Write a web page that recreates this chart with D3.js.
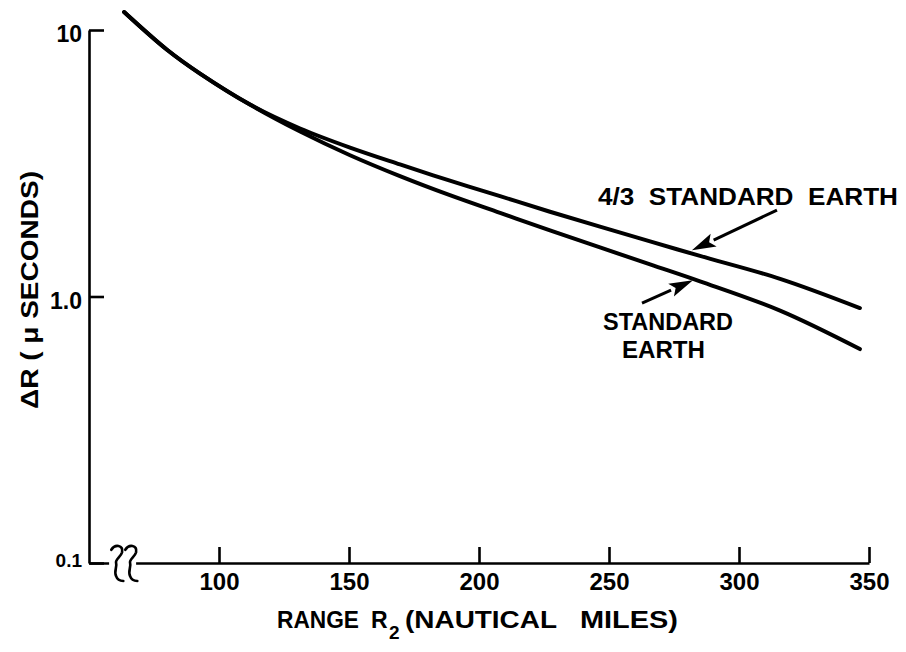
<!DOCTYPE html>
<html>
<head>
<meta charset="utf-8">
<script src="https://cdn.jsdelivr.net/npm/d3@7"></script>
<style>
  body { margin: 0; background: #fff; }
  text { font-family: "Liberation Sans", Arial, sans-serif; font-weight: bold; fill: #000; }
</style>
</head>
<body>
<div id="chart"></div>
<script>
/***********************************************************************/
//chart data (range in nautical miles, delta R in microseconds)
const rangeNm = [63.5, 80, 92.7, 111.9, 131.2, 150.4, 169.6, 188.8, 208.1, 227.3, 265.8, 285, 315.8, 346.5];
const standardEarth = [11.68, 8.43, 6.86, 5.25, 4.16, 3.39, 2.83, 2.40, 2.06, 1.77, 1.32, 1.14, 0.885, 0.635];
const fourThirdsEarth = [11.68, 8.43, 6.86, 5.25, 4.27, 3.62, 3.13, 2.72, 2.38, 2.08, 1.61, 1.42, 1.165, 0.905];

const xTicks = [100, 150, 200, 250, 300, 350];
const yTicks = [0.1, 1, 10];
const yTickLabels = ['0.1', '1.0', '10'];

//annotation arrows, in data units: [tailX, tailY, tipX, tipY]
const arrowFourThirds = [314.6, 2.11, 281.9, 1.49];
const arrowStandard = [262.7, 0.945, 282.3, 1.15];

//set static svg/chart variables
var svgWidth = 906;
var svgHeight = 652;

var svg = d3.select('#chart')
  .append('svg')
  .attr('width', svgWidth)
  .attr('height', svgHeight);

/***********************************************************************/
//scales
var xScale = d3.scaleLinear().domain([50, 350]).range([89, 869]);
var yScale = d3.scaleLog().domain([0.1, 10]).range([563, 30]);

//x axis, ticks pointing up into the plot
var xAxis = d3.axisBottom(xScale)
  .tickValues(xTicks)
  .tickSizeInner(-16)
  .tickSizeOuter(0)
  .tickPadding(9);

var xAxisGroup = svg.append('g')
  .attr('transform', `translate(0, ${yScale(0.1)})`)
  .call(xAxis);
xAxisGroup.select('.domain').attr('stroke-width', 2.6);
xAxisGroup.selectAll('.tick line').attr('stroke-width', 2.6);
xAxisGroup.selectAll('.tick text')
  .attr('font-size', 24)
  .attr('font-family', null)
  .attr('dy', '0.74em');

//y axis, ticks pointing right into the plot
var yAxis = d3.axisLeft(yScale)
  .tickValues(yTicks)
  .tickFormat((d, i) => yTickLabels[i])
  .tickSizeInner(-15)
  .tickSizeOuter(0)
  .tickPadding(7);

var yAxisGroup = svg.append('g')
  .attr('transform', `translate(${xScale(50)}, 0)`)
  .call(yAxis);
yAxisGroup.select('.domain').attr('stroke-width', 2.6);
yAxisGroup.selectAll('.tick line').attr('stroke-width', 2.6);
yAxisGroup.selectAll('.tick text')
  .attr('font-family', null)
  .attr('font-size', d => d === 0.1 ? 19 : 23)
  .attr('dy', d => d === 0.1 ? '0.2em' : '0.5em');

//axis break on the x axis
var breakX = xScale(58.5);
svg.append('rect')
  .attr('x', breakX - 2)
  .attr('y', yScale(0.1) - 3)
  .attr('width', 27)
  .attr('height', 6)
  .attr('fill', '#fff');
[0, 14].forEach(off => {
  svg.append('path')
    .attr('transform', `translate(${breakX + 5 + off}, ${yScale(0.1)}) scale(1.2)`)
    .attr('d', 'M -4,-11 C -1,-16 6,-15 5,-9 C 4,-5 -1,-3 0,0 C 1,3 -2,7 0,11 C 1,14 4,15 6,15')
    .attr('fill', 'none')
    .attr('stroke', '#000')
    .attr('stroke-width', 2.2)
    .attr('stroke-linecap', 'round');
});

/***********************************************************************/
//the two curves
var line = d3.line()
  .x(d => xScale(d[0]))
  .y(d => yScale(d[1]))
  .curve(d3.curveCatmullRom.alpha(0.5));

[standardEarth, fourThirdsEarth].forEach(series => {
  svg.append('path')
    .datum(rangeNm.map((r, i) => [r, series[i]]))
    .attr('d', line)
    .attr('fill', 'none')
    .attr('stroke', '#000')
    .attr('stroke-width', 4)
    .attr('stroke-linecap', 'round');
});

//annotation arrows
function drawArrow(a) {
  let x0 = xScale(a[0]), y0 = yScale(a[1]);
  let x1 = xScale(a[2]), y1 = yScale(a[3]);
  let ang = Math.atan2(y1 - y0, x1 - x0);
  let len = 24, half = 7;
  let bx = x1 - len * Math.cos(ang), by = y1 - len * Math.sin(ang);
  svg.append('line')
    .attr('x1', x0).attr('y1', y0)
    .attr('x2', bx).attr('y2', by)
    .attr('stroke', '#000')
    .attr('stroke-width', 3);
  svg.append('path')
    .attr('d', `M${x1},${y1} L${bx - half * Math.sin(ang)},${by + half * Math.cos(ang)} L${bx + 5 * Math.cos(ang)},${by + 5 * Math.sin(ang)} L${bx + half * Math.sin(ang)},${by - half * Math.cos(ang)} Z`)
    .attr('fill', '#000');
}
drawArrow(arrowFourThirds);
drawArrow(arrowStandard);

//annotation labels
svg.append('text')
  .attr('x', 598).attr('y', 205)
  .attr('font-size', 23)
  .attr('textLength', 300)
  .attr('lengthAdjust', 'spacingAndGlyphs')
  .style('white-space', 'pre')
  .text('4/3  STANDARD  EARTH');

svg.append('text')
  .attr('x', 603).attr('y', 330)
  .attr('font-size', 23)
  .attr('textLength', 130)
  .attr('lengthAdjust', 'spacingAndGlyphs')
  .text('STANDARD');

svg.append('text')
  .attr('x', 622).attr('y', 358)
  .attr('font-size', 23)
  .attr('textLength', 83)
  .attr('lengthAdjust', 'spacingAndGlyphs')
  .text('EARTH');

/***********************************************************************/
//axis titles
var xTitleParts = [
  {t: 'RANGE', x: 277, y: 628, w: 82, s: 23},
  {t: 'R', x: 371, y: 628, w: 0, s: 23},
  {t: '2', x: 389, y: 639, w: 0, s: 19},
  {t: '(NAUTICAL', x: 405, y: 628, w: 152, s: 23},
  {t: 'MILES)', x: 580, y: 628, w: 98, s: 23}
];
svg.selectAll('.xTitle')
  .data(xTitleParts)
  .enter()
  .append('text')
  .attr('class', 'xTitle')
  .attr('x', d => d.x)
  .attr('y', d => d.y)
  .attr('font-size', d => d.s)
  .attr('textLength', d => d.w || null)
  .attr('lengthAdjust', d => d.w ? 'spacingAndGlyphs' : null)
  .text(d => d.t);

svg.append('text')
  .attr('transform', 'translate(38, 290) rotate(-90)')
  .attr('text-anchor', 'middle')
  .attr('font-size', 23)
  .attr('textLength', 238)
  .attr('lengthAdjust', 'spacingAndGlyphs')
  .style('white-space', 'pre')
  .text('\u0394R ( \u03BC SECONDS)');
</script>
</body>
</html>
